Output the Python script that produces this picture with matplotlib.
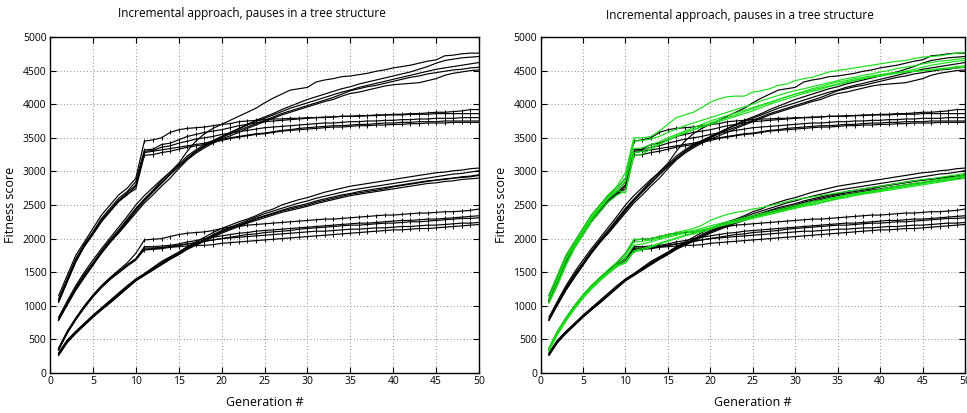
import matplotlib
matplotlib.use("Agg")
import matplotlib.pyplot as plt
import numpy as np

generations = list(range(1, 51))
title_text = "Incremental approach, pauses in a tree structure"
x_label = "Generation #"
y_label = "Fitness score"
x_ticks = [0, 5, 10, 15, 20, 25, 30, 35, 40, 45, 50]
y_ticks = [0, 500, 1000, 1500, 2000, 2500, 3000, 3500, 4000, 4500, 5000]

# Black, smooth upper group
B1 = [830,1070,1300,1500,1680,1850,2010,2170,2330,2500,2640,2760,2880,2990,3120,3300,3450,3560,3640,3700,3760,3820,3880,3940,4020,4090,4150,4210,4230,4250,4330,4360,4380,4410,4420,4440,4460,4490,4510,4540,4560,4580,4610,4640,4660,4720,4730,4750,4760,4760]
B2 = [800,1040,1270,1470,1640,1820,1980,2130,2290,2450,2590,2720,2860,2990,3100,3230,3320,3400,3460,3520,3580,3640,3700,3760,3810,3860,3920,3970,4020,4070,4110,4150,4190,4230,4260,4300,4330,4360,4390,4420,4450,4480,4520,4560,4610,4650,4670,4690,4700,4710]
B3 = [790,1030,1260,1450,1620,1800,1960,2110,2270,2430,2580,2710,2830,2960,3080,3200,3300,3380,3450,3510,3570,3630,3690,3740,3790,3840,3890,3940,3980,4020,4060,4100,4140,4180,4210,4250,4280,4310,4340,4370,4400,4430,4460,4490,4520,4540,4560,4580,4600,4620]
B4 = [780,1020,1240,1430,1610,1780,1940,2090,2250,2410,2560,2690,2820,2950,3070,3190,3290,3370,3440,3500,3560,3610,3660,3710,3760,3810,3860,3900,3940,3980,4020,4060,4100,4150,4200,4230,4260,4280,4310,4340,4370,4400,4420,4450,4470,4490,4510,4520,4540,4550]
B5 = [790,1010,1230,1420,1600,1790,1950,2080,2230,2380,2530,2650,2780,2900,3040,3170,3270,3350,3420,3480,3530,3580,3640,3690,3740,3790,3840,3880,3920,3960,4000,4040,4070,4120,4160,4180,4210,4240,4270,4290,4300,4310,4320,4350,4380,4430,4460,4480,4500,4510]

# Black, upper group with pause (markers)
A1 = [1150,1450,1750,1950,2150,2350,2500,2650,2750,2900,3450,3470,3500,3580,3620,3640,3650,3660,3680,3700,3710,3740,3750,3760,3770,3780,3780,3790,3790,3800,3800,3810,3810,3820,3820,3820,3830,3830,3840,3840,3840,3850,3850,3850,3860,3860,3860,3860,3860,3860]
A2 = [1100,1400,1700,1920,2100,2300,2450,2600,2700,2850,3320,3330,3400,3420,3470,3520,3550,3580,3600,3620,3650,3680,3700,3720,3740,3750,3760,3770,3780,3790,3800,3800,3810,3820,3820,3830,3830,3840,3840,3850,3850,3860,3860,3870,3880,3880,3890,3900,3920,3920]
A3 = [1080,1380,1680,1900,2080,2280,2420,2570,2680,2800,3300,3310,3360,3380,3420,3450,3480,3500,3520,3550,3570,3590,3610,3630,3650,3660,3670,3680,3690,3700,3710,3720,3720,3730,3740,3740,3750,3750,3760,3760,3770,3770,3780,3780,3790,3790,3790,3800,3800,3800]
A4 = [1050,1350,1650,1880,2060,2250,2400,2550,2650,2780,3280,3300,3320,3340,3360,3380,3400,3420,3450,3480,3500,3520,3540,3560,3570,3590,3610,3620,3640,3650,3660,3670,3680,3680,3690,3700,3700,3710,3720,3720,3730,3730,3740,3740,3740,3750,3750,3750,3750,3750]
A5 = [1060,1370,1660,1890,2070,2260,2420,2560,2660,2740,3240,3250,3280,3300,3330,3360,3380,3400,3430,3460,3490,3510,3530,3550,3560,3580,3600,3610,3620,3630,3640,3650,3660,3660,3670,3680,3680,3690,3690,3700,3700,3710,3710,3720,3720,3720,3730,3730,3730,3730]

# Black, smooth lower group
D1 = [300,490,620,740,860,970,1080,1190,1300,1400,1480,1570,1660,1730,1800,1880,1950,2020,2090,2150,2200,2250,2290,2340,2400,2440,2500,2540,2580,2610,2650,2690,2720,2750,2780,2800,2820,2840,2860,2880,2900,2920,2940,2960,2980,2990,3010,3020,3040,3050]
D2 = [290,480,610,730,850,960,1070,1180,1280,1390,1470,1560,1640,1720,1790,1870,1930,1990,2060,2120,2170,2220,2270,2320,2370,2410,2450,2490,2530,2560,2600,2630,2660,2690,2720,2740,2760,2780,2800,2820,2840,2860,2880,2900,2920,2940,2960,2970,2990,3010]
D3 = [270,460,590,710,830,940,1050,1160,1270,1380,1460,1540,1620,1710,1780,1850,1910,1980,2040,2100,2150,2200,2250,2300,2340,2380,2420,2460,2490,2520,2560,2590,2620,2650,2670,2700,2720,2740,2760,2780,2800,2820,2840,2860,2870,2890,2900,2920,2930,2950]
D4 = [280,470,600,720,840,950,1060,1170,1270,1380,1460,1550,1630,1700,1770,1850,1920,1980,2040,2100,2150,2200,2240,2290,2330,2370,2410,2440,2470,2500,2540,2570,2600,2630,2660,2680,2700,2720,2740,2770,2790,2810,2830,2850,2870,2880,2900,2910,2920,2940]
D5 = [260,450,590,710,830,940,1040,1150,1260,1370,1450,1530,1610,1690,1760,1840,1900,1960,2020,2080,2130,2180,2230,2270,2310,2350,2390,2420,2450,2480,2520,2550,2580,2610,2640,2660,2680,2700,2720,2740,2760,2780,2800,2820,2830,2850,2860,2880,2890,2900]

# Black, lower group with pause (markers)
C1 = [370,620,820,1000,1160,1300,1420,1530,1640,1780,1980,1990,2000,2030,2060,2080,2090,2100,2120,2150,2170,2180,2200,2210,2220,2230,2240,2250,2260,2270,2280,2290,2290,2300,2310,2320,2330,2340,2350,2350,2360,2370,2380,2380,2390,2400,2400,2410,2420,2440]
C2 = [360,610,810,990,1150,1290,1410,1510,1610,1700,1880,1880,1890,1900,1920,1950,1970,2000,2020,2040,2060,2080,2090,2110,2120,2130,2140,2150,2160,2170,2180,2190,2200,2210,2220,2230,2230,2240,2250,2260,2270,2270,2280,2290,2290,2300,2310,2320,2330,2340]
C3 = [350,600,800,980,1140,1280,1400,1500,1600,1690,1860,1860,1870,1880,1900,1920,1940,1960,1980,2000,2020,2040,2060,2070,2090,2100,2110,2120,2140,2150,2160,2170,2180,2190,2200,2200,2210,2220,2230,2230,2240,2250,2250,2260,2270,2280,2290,2300,2300,2310]
C4 = [340,590,790,970,1130,1270,1390,1490,1590,1680,1840,1850,1860,1880,1900,1920,1940,1960,1980,2000,2010,2020,2030,2040,2050,2060,2070,2080,2090,2100,2110,2110,2120,2130,2140,2140,2150,2160,2160,2170,2180,2180,2190,2200,2200,2210,2220,2230,2230,2240]
C5 = [350,600,800,980,1140,1280,1400,1500,1610,1700,1830,1840,1850,1870,1880,1890,1900,1900,1910,1930,1940,1950,1960,1970,1980,1990,2000,2010,2020,2030,2040,2050,2060,2070,2080,2090,2100,2110,2120,2130,2130,2140,2150,2150,2160,2170,2180,2190,2200,2210]

# Green, upper group (right panel only)
GA1 = [1170,1450,1750,1950,2150,2350,2500,2650,2780,2980,3500,3500,3520,3600,3700,3800,3840,3880,3950,4030,4080,4110,4120,4120,4180,4200,4230,4280,4300,4350,4380,4400,4440,4480,4500,4520,4540,4560,4580,4600,4620,4640,4650,4680,4700,4710,4720,4740,4760,4770]
GA2 = [1100,1400,1700,1920,2120,2330,2480,2630,2750,2900,3450,3460,3480,3520,3580,3630,3680,3720,3760,3800,3840,3880,3920,3960,4000,4050,4090,4130,4170,4200,4230,4260,4290,4320,4350,4380,4400,4430,4450,4480,4500,4530,4550,4570,4600,4620,4640,4650,4670,4680]
GA3 = [1050,1330,1620,1870,2080,2280,2440,2600,2700,2850,3340,3350,3400,3440,3500,3550,3600,3650,3700,3750,3790,3830,3870,3910,3950,3990,4030,4070,4110,4150,4180,4210,4240,4270,4300,4330,4360,4380,4410,4430,4450,4470,4490,4520,4550,4580,4600,4620,4640,4650]
GA4 = [1040,1300,1600,1850,2050,2250,2400,2550,2650,2700,3280,3300,3360,3410,3460,3520,3570,3620,3660,3700,3740,3780,3820,3860,3900,3950,4000,4040,4080,4120,4160,4190,4220,4260,4290,4320,4350,4380,4400,4420,4440,4460,4480,4490,4500,4510,4530,4540,4560,4570]
GA5 = [1120,1380,1680,1900,2100,2300,2460,2620,2720,2680,3230,3260,3330,3400,3470,3530,3580,3620,3670,3720,3760,3800,3840,3890,3930,3980,4020,4070,4110,4150,4190,4230,4260,4300,4330,4350,4380,4400,4420,4440,4460,4470,4480,4490,4500,4510,4520,4530,4540,4550]

# Green, lower group (right panel only)
GC1 = [370,620,820,1000,1160,1300,1420,1540,1650,1780,1990,1990,2000,2030,2060,2090,2120,2150,2200,2270,2320,2360,2390,2410,2440,2460,2490,2520,2550,2580,2600,2620,2640,2660,2680,2700,2720,2740,2760,2780,2800,2820,2840,2860,2880,2890,2910,2930,2950,2970]
GC2 = [360,600,800,980,1140,1280,1400,1510,1620,1740,1950,1960,1980,2010,2040,2070,2100,2120,2150,2190,2220,2250,2280,2310,2340,2370,2400,2430,2460,2490,2520,2550,2570,2600,2620,2650,2670,2690,2710,2730,2760,2780,2800,2820,2840,2860,2880,2900,2920,2950]
GC3 = [340,580,780,960,1120,1260,1380,1490,1590,1700,1900,1920,1950,1990,2020,2050,2080,2100,2130,2160,2200,2230,2260,2290,2320,2350,2380,2410,2440,2470,2500,2530,2560,2590,2610,2640,2660,2680,2700,2720,2740,2760,2780,2800,2820,2840,2860,2880,2900,2920]
GC4 = [330,570,770,950,1110,1250,1370,1480,1580,1650,1820,1850,1890,1930,1970,2010,2050,2080,2120,2150,2190,2220,2250,2280,2310,2340,2370,2400,2430,2460,2490,2510,2540,2570,2600,2620,2650,2670,2690,2710,2740,2760,2780,2800,2820,2840,2860,2880,2900,2930]
GC5 = [350,590,790,970,1130,1270,1390,1500,1600,1630,1800,1830,1870,1920,1960,2000,2040,2070,2100,2140,2180,2210,2240,2270,2300,2330,2360,2390,2420,2450,2480,2500,2530,2560,2590,2610,2640,2660,2680,2700,2720,2740,2760,2780,2800,2820,2840,2860,2880,2900]

smooth_black = [B1, B2, B3, B4, B5, D1, D2, D3, D4, D5]
paused_black = [A1, A2, A3, A4, A5, C1, C2, C3, C4, C5]
green_runs = [GA1, GA2, GA3, GA4, GA5, GC1, GC2, GC3, GC4, GC5]

FONT = ["Open Sans", "DejaVu Sans"]
plt.rcParams["font.family"] = FONT

W, H = 967, 413
fig = plt.figure(figsize=(W / 100, H / 100), dpi=100)
ax_l = fig.add_axes([50 / W, 40 / H, 429 / W, 336 / H])
ax_r = fig.add_axes([540.5 / W, 40 / H, 424.5 / W, 336 / H])

GREEN = "#18e018"

def style(ax):
    ax.set_xlim(0, 50)
    ax.set_ylim(0, 5000)
    ax.set_xticks(x_ticks)
    ax.set_yticks(y_ticks)
    ax.tick_params(direction="in", top=True, right=True, length=4, width=0.8,
                   labelsize=7.5, pad=2.5, colors="black")
    ax.grid(True, linestyle=(0, (1, 3)), color="#666666", linewidth=0.6)
    for s in ax.spines.values():
        s.set_linewidth(1.0)
        s.set_color("black")
    ax.set_xlabel(x_label, fontsize=9, labelpad=6)
    ax.set_ylabel(y_label, fontsize=9, labelpad=4)

for ax in (ax_l, ax_r):
    for run in smooth_black:
        ax.plot(generations, run, color="black", linewidth=0.85)
    for run in paused_black:
        ax.plot(generations, run, color="black", linewidth=0.85,
                marker="|", markersize=3, markeredgewidth=0.7,
                markevery=list(range(10, 50)))
    style(ax)

for run in green_runs:
    ax_r.plot(generations, run, color=GREEN, linewidth=0.85)

fig.text(252 / W, 1 - 13 / H, title_text, ha="center", va="center", fontsize=8.5)
fig.text(740 / W, 1 - 15 / H, title_text, ha="center", va="center", fontsize=8.5)

fig.savefig("out.png", dpi=100)
